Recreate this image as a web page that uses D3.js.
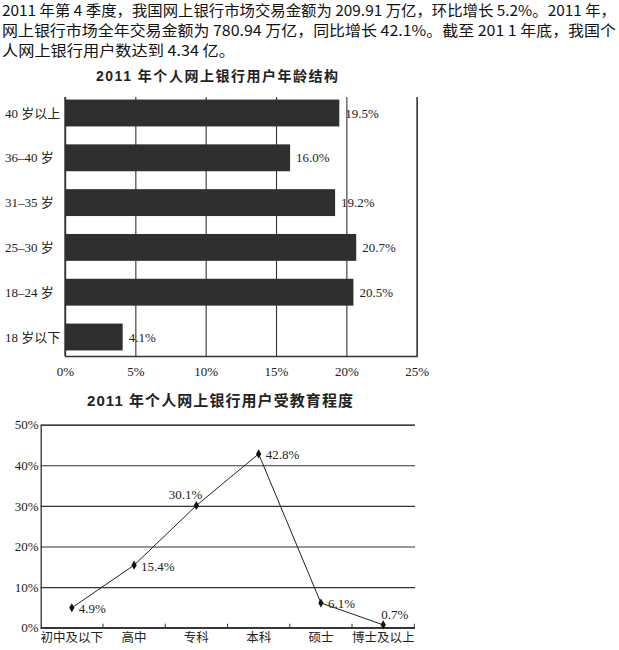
<!DOCTYPE html>
<html lang="zh">

<head>
    <meta charset="utf-8">
    <style type="text/css">
        body {
            margin: 0;
            background-color: #fff;
        }

        svg {
            display: block;
            background-color: #fff;
        }

        .para {
            font: 15px "Noto Sans CJK SC", sans-serif;
            fill: #111;
        }

        .title {
            font: bold 14px "Liberation Sans", "Noto Sans CJK SC", sans-serif;
            fill: #222;
        }

        .lbl {
            font: 13px "Liberation Serif", "Noto Sans CJK SC", serif;
            fill: #222;
        }

        .axis text {
            font: 13px "Liberation Serif", "Noto Sans CJK SC", serif;
            fill: #222;
        }

        .cat text {
            font: 12.5px "Noto Sans CJK SC", serif;
        }

        .axis line, .axis path {
            stroke: #333;
        }
    </style>
    <script src="https://d3js.org/d3.v7.min.js"></script>
    <title>2011 个人网上银行用户</title>
</head>

<body>
    <div id="canvas"></div>
    <script type="text/JavaScript">

        // text above the charts
        var paragraph = [
            "2011 年第 4 季度，我国网上银行市场交易金额为 209.91 万亿，环比增长 5.2%。2011 年，",
            "网上银行市场全年交易金额为 780.94 万亿，同比增长 42.1%。截至 201 1 年底，我国个",
            "人网上银行用户数达到 4.34 亿。"
        ];

        // age structure (bar chart)
        var ageTitle = "2011 年个人网上银行用户年龄结构";
        var ageGroups = ["40 岁以上", "36–40 岁", "31–35 岁", "25–30 岁", "18–24 岁", "18 岁以下"];
        var ageShare = [19.5, 16.0, 19.2, 20.7, 20.5, 4.1];
        var ageTicks = [0, 5, 10, 15, 20, 25];

        // education (line chart)
        var eduTitle = "2011 年个人网上银行用户受教育程度";
        var eduLevels = ["初中及以下", "高中", "专科", "本科", "硕士", "博士及以上"];
        var eduShare = [4.9, 15.4, 30.1, 42.8, 6.1, 0.7];
        var eduTicks = [0, 10, 20, 30, 40, 50];
        // where each value label sits relative to its point
        var eduLabelSide = ["right", "right", "aboveLeft", "right", "right", "above"];

        var width = 619, height = 650;

        var svg = d3.select("#canvas")
            .append("svg")
            .attr("width", width)
            .attr("height", height);

        //Paragraph lines, stretched to the same line length as the scan
        svg.selectAll("text.para")
            .data(paragraph)
            .enter().append("text")
            .attr("class", "para")
            .attr("x", 2)
            .attr("y", function(d, i) { return 16 + i * 20; })
            .attr("textLength", function(d, i) { return i < 2 ? 614 : 233; })
            .attr("lengthAdjust", "spacingAndGlyphs")
            .text(function(d) { return d; });

        // ---------- bar chart ----------
        var bx = d3.scaleLinear().domain([0, 25]).range([65, 416.7]);
        var by = d3.scaleBand().domain(ageGroups).range([90.6, 359.4])
            .paddingInner(0.4).paddingOuter(0.2);
        var bTop = 97, bBottom = 356;

        svg.append("text")
            .attr("class", "title")
            .attr("x", 96).attr("y", 81)
            .attr("textLength", 242)
            .attr("lengthAdjust", "spacing")
            .text(ageTitle);

        var bAxis = svg.append("g")
            .attr("class", "axis")
            .attr("transform", "translate(0," + bBottom + ")")
            .call(d3.axisBottom(bx)
                .tickValues(ageTicks)
                .tickSize(-(bBottom - bTop))
                .tickPadding(8)
                .tickFormat(function(d) { return d + "%"; }));
        bAxis.select(".domain").attr("stroke-width", 1.3);
        bAxis.selectAll(".tick line").attr("stroke-width", 1.1);
        bAxis.selectAll(".tick text").attr("dy", "0.95em");

        // left axis line
        svg.append("line")
            .attr("x1", bx(0)).attr("x2", bx(0))
            .attr("y1", bTop).attr("y2", bBottom)
            .attr("stroke", "#333").attr("stroke-width", 1.3);

        var bars = svg.append("g");
        bars.selectAll("rect")
            .data(ageShare)
            .enter().append("rect")
            .attr("x", bx(0))
            .attr("y", function(d, i) { return by(ageGroups[i]); })
            .attr("width", function(d) { return bx(d) - bx(0); })
            .attr("height", by.bandwidth())
            .attr("fill", "#2f2f2f");

        bars.selectAll("text.val")
            .data(ageShare)
            .enter().append("text")
            .attr("class", "lbl val")
            .attr("x", function(d) { return bx(d) + 6; })
            .attr("y", function(d, i) { return by(ageGroups[i]) + by.bandwidth() / 2; })
            .attr("dy", "0.35em")
            .text(function(d) { return d.toFixed(1) + "%"; });

        bars.selectAll("text.cat")
            .data(ageGroups)
            .enter().append("text")
            .attr("class", "lbl cat")
            .attr("x", 5)
            .attr("y", function(d) { return by(d) + by.bandwidth() / 2; })
            .attr("dy", "0.35em")
            .text(function(d) { return d; });

        // ---------- line chart ----------
        var lx = d3.scaleBand().domain(eduLevels).range([40.7, 414.3]);
        var ly = d3.scaleLinear().domain([0, 50]).range([627.7, 424.7]);
        var lRight = 415;

        svg.append("text")
            .attr("class", "title")
            .style("font-size", "15px")
            .attr("x", 87).attr("y", 406)
            .attr("textLength", 266)
            .attr("lengthAdjust", "spacing")
            .text(eduTitle);

        var yAxis = svg.append("g")
            .attr("class", "axis")
            .attr("transform", "translate(" + lx.range()[0] + ",0)")
            .call(d3.axisLeft(ly)
                .tickValues(eduTicks)
                .tickSize(-(lRight - lx.range()[0]))
                .tickPadding(2)
                .tickFormat(function(d) { return d + "%"; }));
        yAxis.select(".domain").attr("stroke-width", 1.3);
        yAxis.selectAll(".tick line").attr("stroke-width", 1.1).attr("stroke", "#444");

        var xAxis = svg.append("g")
            .attr("class", "axis cat")
            .attr("transform", "translate(0," + ly(0) + ")")
            .call(d3.axisBottom(lx).tickSize(0).tickPadding(4));
        xAxis.select(".domain").remove();
        xAxis.selectAll(".tick text").attr("dy", "0.85em");

        // bottom axis line with ticks at the band edges, pointing up
        svg.append("line")
            .attr("x1", lx.range()[0]).attr("x2", lRight)
            .attr("y1", ly(0)).attr("y2", ly(0))
            .attr("stroke", "#333").attr("stroke-width", 1.3);
        svg.append("g").selectAll("line")
            .data(eduLevels)
            .enter().append("line")
            .attr("x1", function(d) { return lx(d) + lx.step(); })
            .attr("x2", function(d) { return lx(d) + lx.step(); })
            .attr("y1", ly(0)).attr("y2", ly(0) - 4)
            .attr("stroke", "#333");

        var cx = function(d, i) { return lx(eduLevels[i]) + lx.bandwidth() / 2; };
        var line = d3.line()
            .x(cx)
            .y(function(d) { return ly(d); });

        svg.append("path")
            .datum(eduShare)
            .attr("d", line)
            .attr("fill", "none")
            .attr("stroke", "#222")
            .attr("stroke-width", 1);

        svg.append("g").selectAll("path")
            .data(eduShare)
            .enter().append("path")
            .attr("transform", function(d, i) { return "translate(" + cx(d, i) + "," + ly(d) + ")"; })
            .attr("d", d3.symbol().type(d3.symbolDiamond).size(24))
            .attr("fill", "#111");

        svg.append("g").selectAll("text")
            .data(eduShare)
            .enter().append("text")
            .attr("class", "lbl")
            .attr("x", function(d, i) {
                var side = eduLabelSide[i];
                if (side == "aboveLeft") return cx(d, i) + 6;
                if (side == "above") return cx(d, i) - 2;
                return cx(d, i) + 7;
            })
            .attr("y", function(d, i) {
                var side = eduLabelSide[i];
                if (side == "right") return ly(d) + 1;
                return ly(d) - 6;
            })
            .attr("dy", function(d, i) { return eduLabelSide[i] == "right" ? "0.35em" : "0"; })
            .attr("text-anchor", function(d, i) { return eduLabelSide[i] == "aboveLeft" ? "end" : "start"; })
            .text(function(d) { return d.toFixed(1) + "%"; });

    </script>
</body>

</html>
